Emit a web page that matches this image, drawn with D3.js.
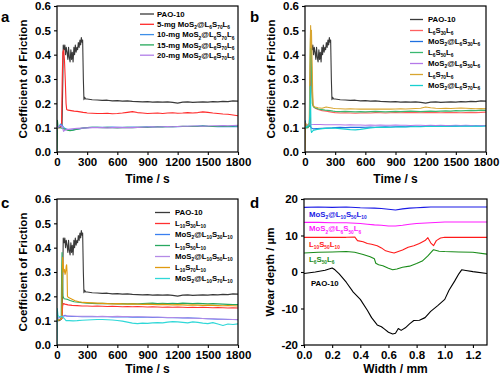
<!DOCTYPE html>
<html>
<head>
<meta charset="utf-8">
<script src="https://cdn.jsdelivr.net/npm/d3@7"></script>
<style>
body { margin: 0; background: #fff; }
svg { display: block; font-family: "Liberation Sans", Arial, sans-serif; font-weight: bold; }
</style>
</head>
<body>
<script>
// ---- data ----
const cofTicks = [0.0, 0.1, 0.2, 0.3, 0.4, 0.5, 0.6];
const timeTicks = [0, 300, 600, 900, 1200, 1500, 1800];
const widthTicks = [0.0, 0.2, 0.4, 0.6, 0.8, 1.0, 1.2];
const depthTicks = [-20, -10, 0, 10, 20];

// steady part of every friction curve is sampled every 50 s from 300 s
const tailTimes = d3.range(300, 1801, 50);

const paoHead = [[0,0.10],[20,0.10],[40,0.105],[50,0.11],[58,0.30],[62,0.44],[70,0.42],[78,0.44],[85,0.40],[92,0.43],[100,0.41],[108,0.38],[115,0.43],[122,0.39],[130,0.37],[138,0.42],[145,0.38],[152,0.41],[160,0.37],[168,0.43],[175,0.40],[182,0.44],[190,0.41],[198,0.43],[205,0.42],[212,0.45],[220,0.43],[228,0.46],[235,0.44],[242,0.47],[250,0.45],[255,0.46],[262,0.30],[268,0.215],[275,0.225],[285,0.218]];
const paoTail = [0.218,0.215,0.214,0.212,0.213,0.210,0.211,0.209,0.210,0.208,0.207,0.206,0.207,0.205,0.206,0.205,0.206,0.204,0.201,0.205,0.206,0.204,0.205,0.206,0.205,0.207,0.206,0.208,0.207,0.210,0.209];

// panel a
const legendA = ["PAO-10", "5-mg MoS_{2}@L_{6}S_{70}L_{6}", "10-mg MoS_{2}@L_{6}S_{70}L_{6}", "15-mg MoS_{2}@L_{6}S_{70}L_{6}", "20-mg MoS_{2}@L_{6}S_{70}L_{6}"];
const mg5Head = [[0,0.10],[30,0.10],[45,0.105],[52,0.30],[58,0.41],[66,0.42],[74,0.38],[82,0.30],[90,0.20],[96,0.175],[110,0.172],[140,0.170],[170,0.168],[200,0.167],[230,0.165],[260,0.163],[285,0.162]];
const mg5Tail = [0.160,0.159,0.158,0.158,0.159,0.157,0.158,0.160,0.163,0.166,0.162,0.160,0.158,0.159,0.160,0.158,0.160,0.161,0.159,0.160,0.162,0.160,0.162,0.165,0.163,0.160,0.158,0.156,0.155,0.152,0.149];
const mg10Head = [[0,0.10],[20,0.105],[35,0.115],[50,0.11],[70,0.10],[90,0.095],[120,0.09],[150,0.09],[180,0.093],[220,0.095],[260,0.098]];
const mg10Tail = [0.100,0.101,0.102,0.101,0.102,0.103,0.102,0.101,0.102,0.103,0.102,0.103,0.104,0.103,0.104,0.105,0.104,0.105,0.104,0.105,0.106,0.105,0.107,0.108,0.106,0.105,0.104,0.105,0.104,0.105,0.104];
const mg15Head = [[0,0.0],[4,0.13],[10,0.105],[30,0.10],[50,0.098],[70,0.095],[100,0.09],[130,0.088],[160,0.09],[200,0.094],[240,0.097],[270,0.099]];
const mg15Tail = [0.100,0.102,0.101,0.100,0.101,0.100,0.099,0.100,0.101,0.100,0.101,0.102,0.101,0.103,0.104,0.103,0.105,0.104,0.105,0.106,0.105,0.106,0.105,0.107,0.106,0.105,0.106,0.107,0.106,0.107,0.108];
const mg20Head = [[0,0.10],[20,0.105],[40,0.11],[55,0.10],[65,0.085],[80,0.09],[110,0.093],[150,0.095],[200,0.097],[250,0.098]];
const mg20Tail = [0.099,0.100,0.100,0.100,0.099,0.100,0.101,0.100,0.100,0.100,0.101,0.102,0.103,0.104,0.103,0.104,0.105,0.104,0.105,0.106,0.106,0.107,0.107,0.106,0.107,0.108,0.108,0.109,0.108,0.109,0.110];

// panel b
const legendB = ["PAO-10", "L_{6}S_{30}L_{6}", "MoS_{2}@L_{6}S_{30}L_{6}", "L_{6}S_{50}L_{6}", "MoS_{2}@L_{6}S_{50}L_{6}", "L_{6}S_{70}L_{6}", "MoS_{2}@L_{6}S_{70}L_{6}"];
const l6s30Head = [[0,0.10],[30,0.105],[45,0.11],[52,0.30],[58,0.44],[63,0.40],[70,0.25],[80,0.19],[100,0.18],[130,0.175],[170,0.17],[210,0.168],[250,0.165],[280,0.163]];
const l6s30Tail = [0.162,0.160,0.161,0.160,0.159,0.160,0.161,0.160,0.162,0.161,0.160,0.161,0.162,0.161,0.162,0.163,0.162,0.161,0.162,0.163,0.162,0.161,0.162,0.163,0.162,0.161,0.162,0.163,0.162,0.163,0.164];
const m6s30Head = [[0,0.13],[10,0.11],[30,0.105],[50,0.11],[60,0.10],[80,0.095],[120,0.096],[170,0.097],[220,0.098],[270,0.099]];
const m6s30Tail = [0.100,0.101,0.100,0.101,0.102,0.101,0.102,0.103,0.102,0.103,0.104,0.103,0.104,0.105,0.104,0.105,0.106,0.105,0.106,0.105,0.106,0.107,0.106,0.107,0.106,0.107,0.108,0.107,0.108,0.107,0.108];
const l6s50Head = [[0,0.10],[30,0.10],[45,0.11],[50,0.35],[55,0.47],[60,0.44],[66,0.30],[72,0.20],[85,0.185],[110,0.18],[150,0.175],[200,0.172],[250,0.17],[280,0.168]];
const l6s50Tail = [0.167,0.166,0.167,0.166,0.165,0.166,0.165,0.166,0.167,0.166,0.165,0.166,0.167,0.166,0.167,0.168,0.167,0.166,0.167,0.168,0.167,0.168,0.169,0.168,0.170,0.169,0.170,0.171,0.170,0.172,0.171];
const m6s50Head = [[0,0.11],[20,0.112],[40,0.115],[60,0.114],[100,0.113],[150,0.113],[200,0.112],[250,0.112]];
const m6s50Tail = [0.112,0.112,0.111,0.112,0.111,0.111,0.110,0.111,0.110,0.111,0.110,0.110,0.111,0.110,0.110,0.109,0.110,0.110,0.109,0.110,0.109,0.110,0.109,0.109,0.110,0.109,0.110,0.109,0.108,0.109,0.109];
const l6s70Head = [[0,0.0],[4,0.12],[15,0.11],[30,0.11],[42,0.12],[48,0.30],[52,0.45],[56,0.52],[60,0.43],[64,0.50],[68,0.42],[72,0.35],[76,0.25],[82,0.19],[100,0.185],[130,0.182],[170,0.18],[210,0.185],[250,0.182],[280,0.18]];
const l6s70Tail = [0.179,0.178,0.177,0.178,0.177,0.176,0.177,0.176,0.177,0.176,0.177,0.176,0.177,0.178,0.177,0.178,0.179,0.180,0.185,0.182,0.180,0.179,0.180,0.179,0.180,0.181,0.180,0.179,0.178,0.179,0.178];
const m6s70Head = [[0,0.10],[20,0.105],[40,0.11],[48,0.15],[52,0.27],[56,0.20],[60,0.09],[65,0.08],[80,0.088],[110,0.092],[150,0.095],[200,0.097],[250,0.098]];
const m6s70Tail = [0.098,0.096,0.094,0.092,0.091,0.093,0.096,0.099,0.101,0.102,0.101,0.102,0.103,0.104,0.103,0.104,0.105,0.104,0.105,0.106,0.105,0.106,0.105,0.106,0.107,0.106,0.107,0.106,0.107,0.106,0.107];

// panel c
const legendC = ["PAO-10", "L_{10}S_{30}L_{10}", "MoS_{2}@L_{10}S_{30}L_{10}", "L_{10}S_{50}L_{10}", "MoS_{2}@L_{10}S_{50}L_{10}", "L_{10}S_{70}L_{10}", "MoS_{2}@L_{10}S_{70}L_{10}"];
const l10s30Head = [[0,0.10],[30,0.105],[50,0.11],[56,0.16],[62,0.17],[80,0.168],[110,0.165],[150,0.163],[200,0.162],[250,0.16]];
const l10s30Tail = [0.160,0.159,0.160,0.159,0.158,0.159,0.158,0.157,0.158,0.157,0.158,0.157,0.156,0.157,0.156,0.155,0.156,0.155,0.156,0.155,0.154,0.155,0.154,0.155,0.154,0.153,0.154,0.153,0.152,0.153,0.152];
const m10s30Head = [[0,0.11],[20,0.112],[40,0.115],[60,0.118],[80,0.122],[100,0.118],[150,0.117],[200,0.117],[250,0.116]];
const m10s30Tail = [0.116,0.116,0.117,0.116,0.116,0.115,0.116,0.115,0.115,0.114,0.115,0.114,0.114,0.113,0.114,0.113,0.112,0.113,0.112,0.111,0.112,0.111,0.110,0.109,0.108,0.107,0.106,0.106,0.105,0.105,0.104];
const l10s50Head = [[0,0.10],[30,0.105],[42,0.11],[46,0.30],[50,0.38],[55,0.30],[60,0.20],[70,0.19],[100,0.188],[130,0.183],[170,0.178],[210,0.176],[250,0.174]];
const l10s50Tail = [0.172,0.171,0.170,0.171,0.170,0.170,0.169,0.170,0.169,0.170,0.169,0.170,0.171,0.172,0.170,0.171,0.170,0.171,0.170,0.172,0.171,0.170,0.171,0.170,0.169,0.170,0.169,0.168,0.167,0.166,0.166];
const m10s50Head = [[0,0.11],[30,0.113],[60,0.118],[100,0.12],[150,0.119],[200,0.118],[250,0.118]];
const m10s50Tail = [0.118,0.118,0.117,0.118,0.117,0.117,0.118,0.117,0.117,0.116,0.116,0.116,0.115,0.115,0.114,0.114,0.113,0.113,0.112,0.112,0.111,0.110,0.110,0.109,0.108,0.108,0.107,0.106,0.106,0.105,0.105];
const l10s70Head = [[0,0.10],[30,0.105],[48,0.11],[52,0.30],[56,0.36],[62,0.33],[68,0.30],[74,0.31],[80,0.29],[86,0.30],[92,0.325],[96,0.33],[100,0.30],[104,0.20],[115,0.195],[140,0.19],[180,0.182],[220,0.178],[260,0.175]];
const l10s70Tail = [0.174,0.173,0.172,0.171,0.170,0.169,0.170,0.169,0.168,0.169,0.168,0.167,0.168,0.167,0.166,0.167,0.166,0.165,0.166,0.165,0.164,0.165,0.164,0.163,0.164,0.163,0.162,0.161,0.162,0.161,0.160];
const m10s70Head = [[0,0.0],[3,0.15],[10,0.12],[30,0.115],[50,0.118],[70,0.11],[90,0.10],[120,0.10],[160,0.099],[200,0.10],[250,0.102]];
const m10s70Tail = [0.103,0.104,0.105,0.105,0.104,0.103,0.101,0.098,0.094,0.090,0.088,0.090,0.089,0.091,0.092,0.091,0.094,0.096,0.095,0.093,0.091,0.095,0.093,0.090,0.088,0.092,0.086,0.080,0.086,0.084,0.087];

// panel d: wear profiles [width mm, depth um]
const legendD = ["MoS_{2}@L_{10}S_{50}L_{10}", "MoS_{2}@L_{6}S_{50}L_{6}", "L_{10}S_{50}L_{10}", "L_{6}S_{50}L_{6}", "PAO-10"];
const profMoL10 = [[0,17.7],[0.1,17.8],[0.2,17.7],[0.3,17.8],[0.4,17.6],[0.5,17.5],[0.55,17.4],[0.6,17.2],[0.65,17.0],[0.7,17.3],[0.75,17.5],[0.8,17.6],[0.85,17.7],[0.9,17.8],[1.0,17.8],[1.1,17.8],[1.2,17.8],[1.3,17.8]];
const profMoL6 = [[0,13.6],[0.1,13.6],[0.2,13.5],[0.3,13.5],[0.4,13.3],[0.45,13.1],[0.5,12.9],[0.55,12.8],[0.6,12.6],[0.65,12.6],[0.7,12.8],[0.75,13.1],[0.8,13.3],[0.9,13.5],[1.0,13.7],[1.1,13.7],[1.2,13.7],[1.3,13.7]];
const profL10 = [[0,9.5],[0.1,9.5],[0.2,9.5],[0.3,9.5],[0.36,9.6],[0.38,8.6],[0.42,8.3],[0.45,7.8],[0.48,7.6],[0.52,7.2],[0.55,6.6],[0.58,5.8],[0.61,5.5],[0.64,5.2],[0.67,5.6],[0.7,6.0],[0.74,6.8],[0.78,7.2],[0.82,7.8],[0.86,8.6],[0.88,9.4],[0.9,8.0],[0.92,7.2],[0.94,8.6],[0.97,9.3],[1.0,9.5],[1.1,9.5],[1.2,9.5],[1.3,9.5]];
const profL6 = [[0,5.2],[0.1,5.4],[0.2,5.5],[0.3,5.6],[0.36,5.4],[0.42,4.8],[0.47,4.2],[0.5,3.6],[0.51,2.4],[0.53,2.0],[0.56,1.7],[0.6,1.0],[0.63,0.6],[0.66,0.8],[0.7,1.3],[0.75,1.6],[0.8,2.3],[0.84,3.0],[0.88,4.4],[0.92,6.1],[0.96,5.7],[1.0,5.6],[1.1,5.5],[1.2,5.4],[1.3,4.9]];
const profPAO = [[0,-0.4],[0.08,0],[0.15,0.5],[0.2,1.1],[0.22,0.6],[0.25,-0.5],[0.3,-2.8],[0.35,-5.5],[0.4,-7.5],[0.45,-10.5],[0.48,-12.5],[0.52,-14.5],[0.55,-15],[0.57,-15.6],[0.6,-16.5],[0.63,-17],[0.65,-16.8],[0.67,-15.5],[0.69,-16],[0.72,-15.3],[0.75,-14.2],[0.78,-13.3],[0.82,-13.2],[0.86,-12.5],[0.9,-10.8],[0.95,-9.2],[1.0,-7.5],[1.03,-5],[1.07,-2.5],[1.1,-0.5],[1.12,0.6],[1.15,0.4],[1.2,0.1],[1.3,-0.4]];

// ---- drawing ----
const width = 500;
const height = 376;

const svg = d3.select("body")
  .append("svg")
  .attr("width", width)
  .attr("height", height);

const joinTail = (head, tail) => head.concat(tail.map((v, i) => [tailTimes[i], v]));
const pao = joinTail(paoHead, paoTail);

// text with _{...} subscripts
function richText(sel, label, fs) {
  const parts = label.split(/(_\{[^}]*\})/).filter(s => s.length);
  const shift = fs * 0.28;
  let low = false;
  parts.forEach(p => {
    if (p.startsWith("_{")) {
      sel.append("tspan").attr("font-size", fs * 0.62).attr("dy", low ? 0 : shift).text(p.slice(2, -1));
      low = true;
    } else {
      sel.append("tspan").attr("font-size", fs).attr("dy", low ? -shift : 0).text(p);
      low = false;
    }
  });
}

let clipId = 0;
function panel(p) {
  const w = p.right - p.left;
  const h = p.bottom - p.top;
  const g = svg.append("g").attr("transform", `translate(${p.left},${p.top})`);
  const x = d3.scaleLinear().domain(p.xDomain).range([0, w]);
  const y = d3.scaleLinear().domain(p.yDomain).range([h, 0]);

  const xAxis = d3.axisBottom(x).tickValues(p.xTicks).tickFormat(p.xFormat)
    .tickSize(3).tickSizeOuter(0).tickPadding(3);
  const yAxis = d3.axisLeft(y).tickValues(p.yTicks).tickFormat(p.yFormat)
    .tickSize(3).tickSizeOuter(0).tickPadding(3);

  const gx = g.append("g").attr("transform", `translate(0,${h})`).call(xAxis);
  const gy = g.append("g").call(yAxis);
  [gx, gy].forEach(a => {
    a.selectAll("text").attr("font-size", 11.5).attr("font-weight", "bold")
      .attr("font-family", "Liberation Sans, Arial, sans-serif").attr("fill", "#000");
    a.selectAll("line").attr("stroke-width", 1.1);
    a.select(".domain").remove();
  });

  const id = "clip" + (clipId++);
  g.append("clipPath").attr("id", id).append("rect").attr("width", w).attr("height", h);

  const line = d3.line().x(d => x(d[0])).y(d => y(d[1]));
  const lines = g.append("g").attr("clip-path", `url(#${id})`);
  p.series.forEach((s, i) => {
    lines.append("path")
      .attr("d", line(s))
      .attr("fill", "none")
      .attr("stroke", p.colors[i])
      .attr("stroke-width", 1.1)
      .attr("stroke-linejoin", "round");
  });

  g.append("rect").attr("width", w).attr("height", h)
    .attr("fill", "none").attr("stroke", "#000").attr("stroke-width", 1.2);

  g.append("text")
    .attr("x", w / 2).attr("y", h + p.xTitleGap)
    .attr("text-anchor", "middle").attr("font-size", 12)
    .text(p.xTitle);

  g.append("text")
    .attr("transform", `translate(${p.yTitleX},${h / 2}) rotate(-90)`)
    .attr("text-anchor", "middle").attr("font-size", 11.5)
    .text(p.yTitle);

  svg.append("text")
    .attr("x", p.letterX).attr("y", p.letterY)
    .attr("font-size", 15)
    .text(p.letter);

  return { g, x, y };
}

const fmt1 = d3.format(".1f");
const fmtInt = d => (d < 0 ? "-" + Math.abs(d) : String(d));

function legend(g, labels, colors, lx0, lx1, tx, y0, dy) {
  labels.forEach((lab, i) => {
    const yy = y0 + i * dy;
    g.append("line").attr("x1", lx0).attr("x2", lx1).attr("y1", yy).attr("y2", yy)
      .attr("stroke", colors[i]).attr("stroke-width", 1.3);
    const t = g.append("text").attr("x", tx).attr("y", yy + 2.8).attr("font-size", 7.8);
    richText(t, lab, 7.8);
  });
}

// panel a
const colorsA = ["#3a3a3a", "#ff2a2a", "#3d8fe8", "#25a85a", "#b27ee8"];
panel({
  left: 57, right: 238, top: 6, bottom: 152,
  xDomain: [0, 1800], yDomain: [0, 0.6],
  xTicks: timeTicks, yTicks: cofTicks, xFormat: d => d, yFormat: fmt1,
  xTitle: "Time / s", xTitleGap: 31, yTitle: "Coefficient of Friction", yTitleX: -30,
  letter: "a", letterX: 1, letterY: 22,
  colors: colorsA,
  series: [pao, joinTail(mg5Head, mg5Tail), joinTail(mg10Head, mg10Tail),
           joinTail(mg15Head, mg15Tail), joinTail(mg20Head, mg20Tail)]
});
legend(svg, legendA, colorsA, 140, 154, 157, 14, 10.3);

// panel b
const colorsB = ["#3a3a3a", "#ff6060", "#2070e0", "#3ab870", "#b478e8", "#d8a530", "#18d0d0"];
panel({
  left: 305, right: 486, top: 6, bottom: 152,
  xDomain: [0, 1800], yDomain: [0, 0.6],
  xTicks: timeTicks, yTicks: cofTicks, xFormat: d => d, yFormat: fmt1,
  xTitle: "Time / s", xTitleGap: 31, yTitle: "Coefficient of Friction", yTitleX: -30,
  letter: "b", letterX: 250, letterY: 22,
  colors: colorsB,
  series: [pao, joinTail(l6s30Head, l6s30Tail), joinTail(m6s30Head, m6s30Tail),
           joinTail(l6s50Head, l6s50Tail), joinTail(m6s50Head, m6s50Tail),
           joinTail(l6s70Head, l6s70Tail), joinTail(m6s70Head, m6s70Tail)]
});
legend(svg, legendB, colorsB, 410, 423, 428, 19.5, 11);

// panel c
const colorsC = ["#3a3a3a", "#ff3030", "#3a7ff0", "#28a860", "#b48ae6", "#e09a10", "#30d8d8"];
panel({
  left: 57, right: 238, top: 199, bottom: 345,
  xDomain: [0, 1800], yDomain: [0, 0.6],
  xTicks: timeTicks, yTicks: cofTicks, xFormat: d => d, yFormat: fmt1,
  xTitle: "Time / s", xTitleGap: 27.5, yTitle: "Coefficient of Friction", yTitleX: -30,
  letter: "c", letterX: 1, letterY: 208,
  colors: colorsC,
  series: [pao, joinTail(l10s30Head, l10s30Tail), joinTail(m10s30Head, m10s30Tail),
           joinTail(l10s50Head, l10s50Tail), joinTail(m10s50Head, m10s50Tail),
           joinTail(l10s70Head, l10s70Tail), joinTail(m10s70Head, m10s70Tail)]
});
legend(svg, legendC, colorsC, 155, 170, 175, 212.5, 11);

// panel d
const colorsD = ["#1a1ae6", "#ff1aff", "#ff1a1a", "#1a8c1a", "#000000"];
const pd = panel({
  left: 304, right: 487, top: 199, bottom: 345,
  xDomain: [0, 1.3], yDomain: [-20, 20],
  xTicks: widthTicks, yTicks: depthTicks, xFormat: fmt1, yFormat: fmtInt,
  xTitle: "Width / mm", xTitleGap: 27.5, yTitle: "Wear depth / \u00b5m", yTitleX: -30,
  letter: "d", letterX: 250, letterY: 208,
  colors: colorsD,
  series: [profMoL10, profMoL6, profL10, profL6, profPAO]
});
const labelDepth = [15.1, 11.1, 6.9, 2.7, -3.8];
legendD.forEach((lab, i) => {
  const t = pd.g.append("text")
    .attr("x", i === 4 ? 7 : 5)
    .attr("y", pd.y(labelDepth[i]))
    .attr("font-size", 7.8)
    .attr("fill", colorsD[i]);
  richText(t, lab, 7.8);
});
</script>
</body>
</html>
